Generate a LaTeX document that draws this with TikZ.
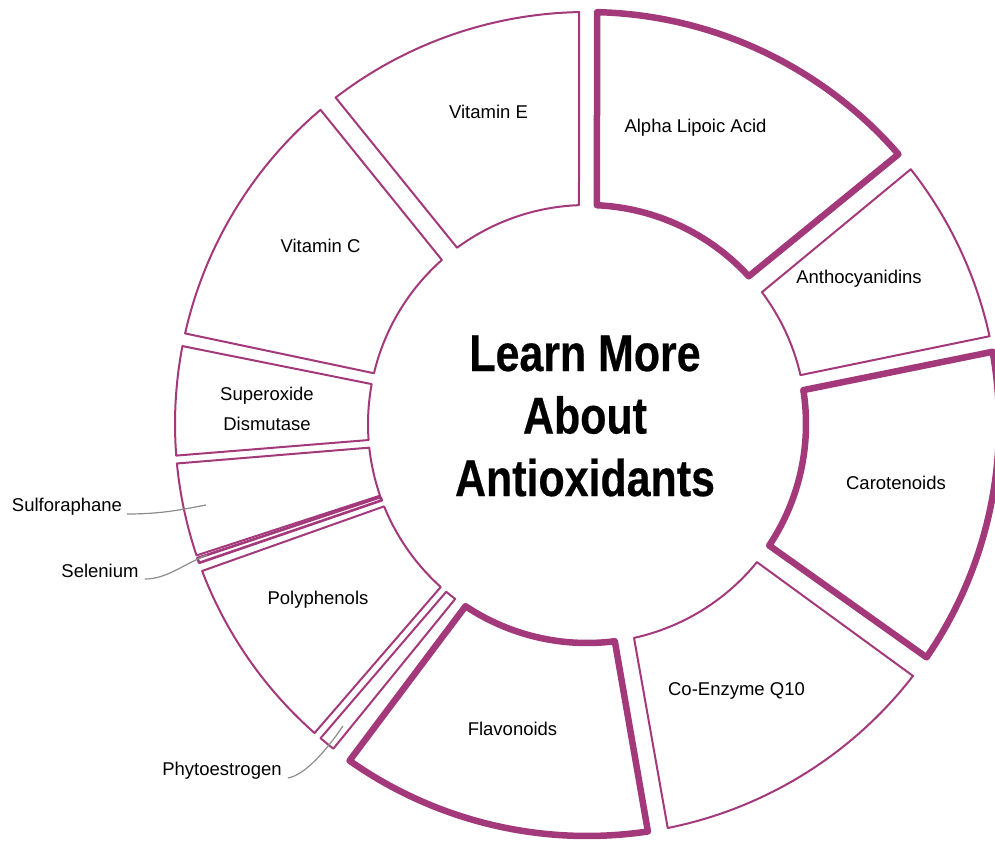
\documentclass[tikz,border=0pt]{standalone}
\usepackage{fontspec}
\setmainfont{Liberation Sans}
\newfontfamily\titlefont[FakeStretch=0.83, BoldFeatures={FakeBold=0.4}]{Liberation Sans}
\definecolor{plum}{RGB}{163,57,122}
\newcommand{\ringseg}[5]{\path[#5] (#1:412pt) arc[start angle=#1, end angle=#2, radius=412pt] -- (#4:219pt) arc[start angle=#4, end angle=#3, radius=219pt] -- cycle;}
\begin{document}
\begin{tikzpicture}[x=1pt,y=1pt,
  seg/.style={draw=plum, line width=2pt, line join=round},
  segbold/.style={draw=plum, line width=6.5pt, line join=round},
  segsliver/.style={draw=plum, line width=2.6pt, line join=round},
  lbl/.style={font=\fontsize{18.5}{22}\selectfont, text=black, inner sep=0pt},
  leader/.style={draw=black!45, line width=1.2pt}]
\useasboundingbox (0,0) rectangle (995,841);
\clip (0,0) rectangle (995,841);
\begin{scope}[shift={(587,417)}]
  \ringseg{127.6}{91.1}{126.4}{92.1}{seg}        % Vitamin E
  \ringseg{38.2}{12.3}{37.0}{12.9}{seg}          % Anthocyanidins
  \ringseg{-37.7}{-78.7}{-39.1}{-77.6}{seg}      % Co-Enzyme Q10
  \ringseg{-128.0}{-130.3}{-127.0}{-130.0}{seg}  % Phytoestrogen
  \ringseg{-131.4}{-159.1}{-131.9}{-157.9}{seg}  % Polyphenols
  \ringseg{-161.4}{-174.5}{-160.9}{-173.8}{seg}  % Sulforaphane
  \ringseg{-160.3}{-161.0}{-159.6}{-160.5}{segsliver}  % Selenium
  \ringseg{-175.6}{-190.9}{-175.8}{-190.5}{seg}  % Superoxide Dismutase
  \ringseg{167.3}{130.3}{166.6}{131.5}{seg}      % Vitamin C
  \ringseg{88.6}{40.9}{87.4}{42.4}{segbold}      % Alpha Lipoic Acid
  \ringseg{10.1}{-34.5}{8.9}{-33.7}{segbold}     % Carotenoids
  \ringseg{-81.5}{-125.2}{-82.7}{-123.7}{segbold}% Flavonoids
\end{scope}

\node[font=\titlefont\bfseries\fontsize{51.7}{62.5}\selectfont, align=center, inner sep=0pt] (title) at (585,425) {Learn More\\About\\Antioxidants};

\node[lbl, anchor=base] (vite) at (488.5,722) {Vitamin E};
\node[lbl, anchor=base] (alpha) at (695.5,708) {Alpha Lipoic Acid};
\node[lbl, anchor=base] (vitc) at (320.5,588) {Vitamin C};
\node[lbl, anchor=base] (antho) at (859,557) {Anthocyanidins};
\node[lbl, align=center, font=\fontsize{18.5}{29.5}\selectfont] (sod) at (267,432) {Superoxide\\Dismutase};
\node[lbl, anchor=base] (carot) at (896,351) {Carotenoids};
\node[lbl, anchor=base] (poly) at (318,236.5) {Polyphenols};
\node[lbl, anchor=base] (coq) at (736.5,146) {Co-Enzyme Q10};
\node[lbl, anchor=base] (flav) at (512.5,106) {Flavonoids};
\node[lbl, anchor=base] (phyto) at (222,66) {Phytoestrogen};
\node[lbl, anchor=base] (sulf) at (67,329) {Sulforaphane};
\node[lbl, anchor=base] (selen) at (100,264) {Selenium};

\coordinate (sulfend) at (206,336);
\coordinate (selenend) at (207,286);
\coordinate (phytoend) at (343,115);

\draw[leader] ([shift={(5,-2)}]sulf.base east) .. controls +(33,0) and +(-26,-5) .. (sulfend);
\draw[leader] ([shift={(6,-2)}]selen.base east) .. controls +(22,0) and +(-25,-10) .. (selenend);
\draw[leader] ([shift={(6,-3)}]phyto.base east) .. controls +(18,3) and +(-15,-22) .. (phytoend);
\end{tikzpicture}
\end{document}
